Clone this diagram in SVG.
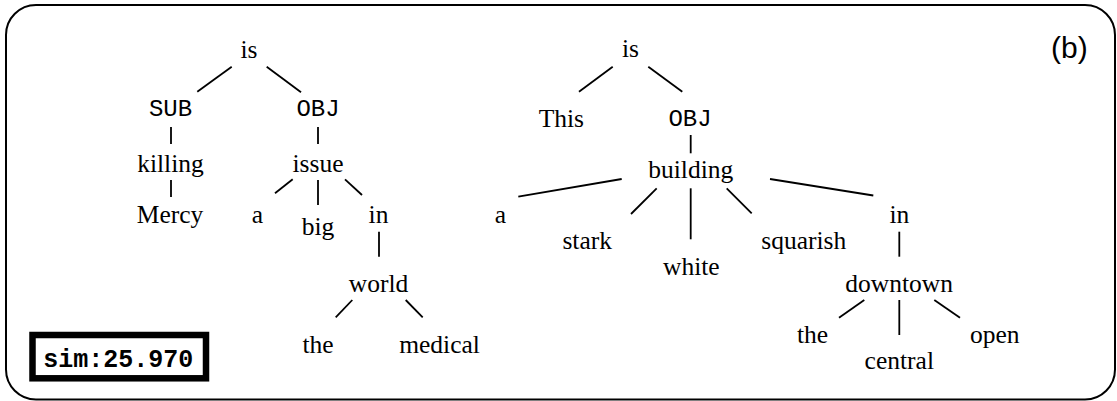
<svg xmlns="http://www.w3.org/2000/svg" width="1117" height="401" viewBox="0 0 1117 401">
  <style>
    .w { font-family: "Liberation Serif", "Times New Roman", serif; font-size: 25.5px; fill: #000; text-anchor: middle; }
    .r { font-family: "Liberation Mono", "Courier New", monospace; font-size: 24px; fill: #000; text-anchor: middle; }
    .lab { font-family: "Liberation Sans", Arial, sans-serif; font-size: 30px; fill: #000; }
    .sim { font-family: "Liberation Mono", "Courier New", monospace; font-size: 25px; font-weight: bold; fill: #000; text-anchor: middle; }
    .edges line { stroke: #000; stroke-width: 1.8; }
  </style>
  <rect x="0" y="0" width="1117" height="401" fill="#fff"/>
  <!-- panel frame -->
  <rect x="6" y="5" width="1109" height="394.5" rx="30" ry="30" fill="none" stroke="#000" stroke-width="2"/>
  <text class="lab" x="1051" y="58">(b)</text>

  <!-- connectors -->
  <g class="edges">
    <!-- left tree -->
    <line x1="231.7" y1="66.7" x2="197.3" y2="91.7"/>
    <line x1="266.7" y1="66.7" x2="301" y2="92.3"/>
    <line x1="171" y1="127" x2="171" y2="144"/>
    <line x1="318" y1="127" x2="318" y2="144"/>
    <line x1="171" y1="180" x2="171" y2="197"/>
    <line x1="292.7" y1="179.3" x2="275" y2="193.3"/>
    <line x1="318" y1="180" x2="318" y2="205"/>
    <line x1="345" y1="179.3" x2="362" y2="195"/>
    <line x1="379" y1="231.7" x2="379" y2="256.7"/>
    <line x1="352.3" y1="300" x2="335.7" y2="317.3"/>
    <line x1="405.7" y1="300" x2="422.7" y2="317.3"/>
    <!-- right tree -->
    <line x1="612.7" y1="66.7" x2="579" y2="91.7"/>
    <line x1="648.3" y1="66.7" x2="682.3" y2="91.7"/>
    <line x1="690.7" y1="135" x2="690.7" y2="153.3"/>
    <line x1="621.7" y1="179" x2="518.3" y2="196.7"/>
    <line x1="656.7" y1="188.3" x2="631" y2="214"/>
    <line x1="690.7" y1="188.3" x2="690.7" y2="239.3"/>
    <line x1="726.7" y1="188.3" x2="751.7" y2="213.3"/>
    <line x1="770" y1="179" x2="873.3" y2="195.5"/>
    <line x1="899.3" y1="231.7" x2="899.3" y2="256.7"/>
    <line x1="864.3" y1="300" x2="839" y2="317.7"/>
    <line x1="899.3" y1="300" x2="899.3" y2="335"/>
    <line x1="934.3" y1="300" x2="960" y2="317.7"/>
  </g>

  <!-- left tree nodes -->
  <g id="l-is"><text class="w" x="249" y="58.3">is</text></g>
  <g id="l-sub"><text class="r" x="170.5" y="116">SUB</text></g>
  <g id="l-obj"><text class="r" x="318" y="116">OBJ</text></g>
  <g id="l-killing"><text class="w" x="170.5" y="172">killing</text></g>
  <g id="l-mercy"><text class="w" x="170" y="223">Mercy</text></g>
  <g id="l-issue"><text class="w" x="318" y="172">issue</text></g>
  <g id="l-a"><text class="w" x="257.5" y="223">a</text></g>
  <g id="l-big"><text class="w" x="318" y="235">big</text></g>
  <g id="l-in"><text class="w" x="378.5" y="223">in</text></g>
  <g id="l-world"><text class="w" x="378.5" y="291.7">world</text></g>
  <g id="l-the"><text class="w" x="318" y="353">the</text></g>
  <g id="l-medical"><text class="w" x="439.5" y="353">medical</text></g>

  <!-- right tree nodes -->
  <g id="r-is"><text class="w" x="630.5" y="57.3">is</text></g>
  <g id="r-this"><text class="w" x="561.3" y="126.7">This</text></g>
  <g id="r-obj"><text class="r" x="690" y="125.7">OBJ</text></g>
  <g id="r-building"><text class="w" x="690.8" y="178.3">building</text></g>
  <g id="r-a"><text class="w" x="500.3" y="222.7">a</text></g>
  <g id="r-stark"><text class="w" x="587.2" y="249.3">stark</text></g>
  <g id="r-white"><text class="w" x="691.3" y="275">white</text></g>
  <g id="r-squarish"><text class="w" x="803.8" y="249.3">squarish</text></g>
  <g id="r-in"><text class="w" x="899.3" y="222.7">in</text></g>
  <g id="r-downtown"><text class="w" x="899.2" y="291.7">downtown</text></g>
  <g id="r-the"><text class="w" x="812.5" y="343.3">the</text></g>
  <g id="r-central"><text class="w" x="899.3" y="369.3">central</text></g>
  <g id="r-open"><text class="w" x="994.7" y="343.3">open</text></g>

  <!-- similarity score box -->
  <g id="score">
    <rect x="32.5" y="335" width="173.5" height="43.3" fill="#fff" stroke="#000" stroke-width="6.5"/>
    <text class="sim" x="118.3" y="366.7">sim:25.970</text>
  </g>
</svg>
